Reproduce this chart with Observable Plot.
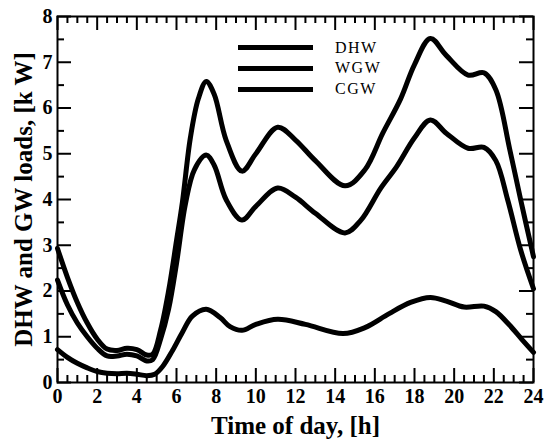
<!DOCTYPE html>
<html><head><meta charset="utf-8">
<script src="https://cdn.jsdelivr.net/npm/d3@7"></script>
<script src="https://cdn.jsdelivr.net/npm/@observablehq/plot@0.6"></script>
<style>
body{margin:0;background:#fff;}
#wrap{position:relative;width:545px;height:439px;overflow:hidden;}
#chart svg [aria-label="x-axis label"] text,
#chart svg [aria-label="y-axis label"] text{font-size:25px !important;}
#ticks{position:absolute;left:0;top:0;pointer-events:none;}
#ticks svg{background:transparent !important;}
.leg{position:absolute;left:238px;font-family:"Liberation Serif",serif;font-size:16px;letter-spacing:1.5px;color:#000;}
.leg .sw{position:absolute;left:0;width:75px;height:5px;background:#000;}
.leg .tx{position:absolute;left:97px;line-height:16px;white-space:nowrap;}
</style>
</head><body>
<div id="wrap"><div id="chart"></div><div id="ticks"></div></div>
<script>
// Series names (legend order)
const seriesNames = ["DHW", "WGW", "CGW"];

// DHW (top curve)
const dhwHours = [0,0.5,1,1.5,2,2.5,3,3.5,4,4.5,4.8,5.2,5.6,6,6.3,6.7,7.1,7.5,7.9,8.5,9.3,10,11.1,12,13,14.5,15.5,16.4,17.3,18,18.8,19.6,20.7,21.5,22.1,22.8,23.35,24];
const dhwLoad  = [2.93,2.3,1.75,1.3,0.95,0.73,0.7,0.75,0.72,0.6,0.62,1.15,2.0,3.1,3.95,5.35,6.2,6.58,6.3,5.3,4.62,5.0,5.58,5.3,4.85,4.3,4.65,5.45,6.2,6.95,7.52,7.15,6.72,6.77,6.4,5.1,4.0,2.75];

// WGW (middle curve)
const wgwHours = [0,0.5,1,1.5,2,2.5,3,3.5,4,4.5,4.8,5.2,5.6,6,6.45,6.9,7.5,7.9,8.5,9.3,10,11.1,12,13,14.5,15.3,16.3,17.1,18,18.8,19.6,20.7,21.5,22.1,22.7,23.35,24];
const wgwLoad  = [2.24,1.7,1.3,1.0,0.75,0.58,0.58,0.62,0.58,0.47,0.5,0.95,1.6,2.6,3.9,4.65,4.97,4.75,4.0,3.55,3.85,4.25,4.05,3.7,3.27,3.55,4.25,4.72,5.35,5.74,5.45,5.12,5.14,4.85,3.99,2.9,2.05];

// CGW (bottom curve)
const cgwHours = [0,0.5,1,1.5,2,2.5,3,3.5,4,4.5,4.9,5.3,5.8,6.3,6.8,7.5,8.2,8.7,9.3,10,11.1,12.5,14.4,15.5,16.7,17.8,18.8,19.6,20.5,21.5,22.1,22.8,23.4,24];
const cgwLoad  = [0.72,0.55,0.42,0.32,0.24,0.2,0.19,0.2,0.18,0.15,0.18,0.35,0.7,1.1,1.45,1.6,1.42,1.22,1.14,1.27,1.38,1.27,1.07,1.2,1.5,1.75,1.86,1.78,1.65,1.67,1.55,1.25,0.95,0.66];

// Tick values
const xMajorTicks = [0,2,4,6,8,10,12,14,16,18,20,22,24];
const yMajorTicks = [0,1,2,3,4,5,6,7,8];
const xMinorTicks = d3.range(0, 24.001, 0.5).filter(v => v % 2 !== 0);
const yMinorTicks = d3.range(0, 8.001, 0.5).filter(v => v % 1 !== 0);

const toRows = (hs, vs, name) => hs.map((h, i) => ({h, v: vs[i], name}));
const series = [
  toRows(dhwHours, dhwLoad, seriesNames[0]),
  toRows(wgwHours, wgwLoad, seriesNames[1]),
  toRows(cgwHours, cgwLoad, seriesNames[2])
];

// layout
const W = 545, H = 439, mL = 57, mR = 12, mT = 16, mB = 57;
const xDom = [0, 24], yDom = [0, 8];

const chart = Plot.plot({
  width: W, height: H,
  marginLeft: mL, marginRight: mR, marginTop: mT, marginBottom: mB,
  style: {fontFamily: '"Liberation Serif", serif', fontSize: "20px", fontWeight: "bold", background: "#fff", color: "#000"},
  x: {domain: xDom},
  y: {domain: yDom},
  marks: [
    Plot.axisX({ticks: xMajorTicks, anchor: "bottom", tickSize: 0, tickPadding: 6, label: "Time of day, [h]", labelAnchor: "center", labelArrow: "none", labelOffset: 51}),
    Plot.axisY({ticks: yMajorTicks, anchor: "left", tickSize: 0, tickPadding: 5, label: "DHW and GW loads, [k W]", labelAnchor: "center", labelArrow: "none", labelOffset: 43}),
    ...series.map(s => Plot.line(s, {x: "h", y: "v", curve: "catmull-rom", stroke: "#000", strokeWidth: 5})),
    Plot.frame({stroke: "#000", strokeWidth: 2})
  ]
});
document.getElementById("chart").appendChild(chart);

// Inward ticks on all four sides, drawn on a transparent overlay with the same scales
const xUnit = (xDom[1] - xDom[0]) / (W - mL - mR);
const yUnit = (yDom[1] - yDom[0]) / (H - mT - mB);
const xTicksIn = (vals, px) => [
  Plot.ruleX(vals, {x: d => d, y1: yDom[0], y2: yDom[0] + px * yUnit, stroke: "#000", strokeWidth: 2}),
  Plot.ruleX(vals, {x: d => d, y1: yDom[1] - px * yUnit, y2: yDom[1], stroke: "#000", strokeWidth: 2})
];
const yTicksIn = (vals, px) => [
  Plot.ruleY(vals, {y: d => d, x1: xDom[0], x2: xDom[0] + px * xUnit, stroke: "#000", strokeWidth: 2}),
  Plot.ruleY(vals, {y: d => d, x1: xDom[1] - px * xUnit, x2: xDom[1], stroke: "#000", strokeWidth: 2})
];
const tickLayer = Plot.plot({
  width: W, height: H,
  marginLeft: mL, marginRight: mR, marginTop: mT, marginBottom: mB,
  style: {background: "transparent", color: "#000"},
  x: {domain: xDom, axis: null},
  y: {domain: yDom, axis: null},
  marks: [
    ...xTicksIn(xMajorTicks, 14),
    ...xTicksIn(xMinorTicks, 7),
    ...yTicksIn(yMajorTicks, 14),
    ...yTicksIn(yMinorTicks, 7)
  ]
});
document.getElementById("ticks").appendChild(tickLayer);

// Legend inside the plot area
const wrap = document.getElementById("wrap");
const legTop = 47.5, legStep = 20.8;
seriesNames.forEach((name, i) => {
  const row = document.createElement("div");
  row.className = "leg";
  row.style.top = (legTop + i * legStep) + "px";
  const sw = document.createElement("div");
  sw.className = "sw"; sw.style.top = "-2.5px";
  const tx = document.createElement("div");
  tx.className = "tx"; tx.style.top = "-8px"; tx.textContent = name;
  row.appendChild(sw); row.appendChild(tx);
  wrap.appendChild(row);
});
</script>
</body></html>
